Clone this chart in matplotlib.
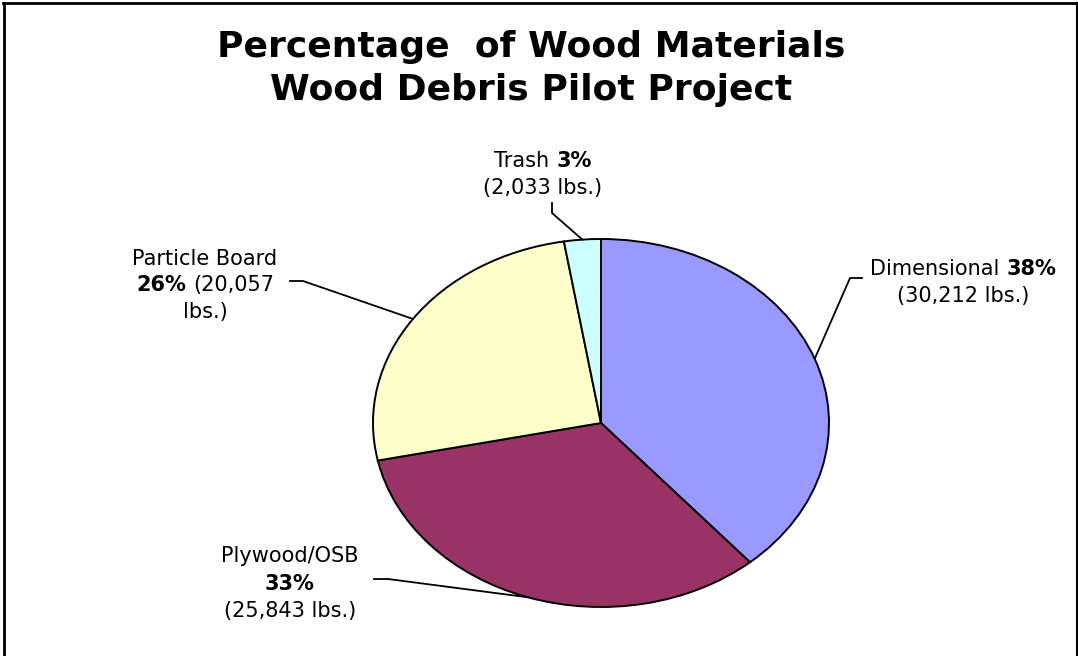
import numpy as np
import matplotlib
matplotlib.use("Agg")
import matplotlib.pyplot as plt
from matplotlib.lines import Line2D

# ---- data ----
categories = ["Dimensional", "Plywood/OSB", "Particle Board", "Trash"]
pounds = [30212, 25843, 20057, 2033]
percent_labels = ["38%", "33%", "26%", "3%"]
colors = ["#9999FF", "#993366", "#FFFFCC", "#CCFFFF"]
title_lines = ["Percentage  of Wood Materials", "Wood Debris Pilot Project"]

W, H = 1078, 656
fig = plt.figure(figsize=(W / 100, H / 100), dpi=100)
fig.patch.set_facecolor("white")

FONT = "DejaVu Sans"
LSIZE = 15

def fx(x):
    return x / W

def fy(y):
    return 1 - y / H

# ---- pie ----
ax = fig.add_axes([fx(373), (H - 607) / H, 456 / W, 368 / H])
wedges, _ = ax.pie(pounds, colors=colors, startangle=90, counterclock=False,
                   wedgeprops=dict(edgecolor="black", linewidth=1.4))
for w in wedges:
    w.set_clip_on(False)
ax.set_xlim(-1, 1)
ax.set_ylim(-1, 1)
ax.set_aspect("auto")
ax.axis("off")

# ---- title ----
fig.text(fx(531), fy(57), title_lines[0], ha="center", va="baseline",
         fontsize=26, fontweight="bold", family=FONT)
fig.text(fx(531), fy(100), title_lines[1], ha="center", va="baseline",
         fontsize=26, fontweight="bold", family=FONT)

renderer = fig.canvas.get_renderer()

def rich_line(xc, yb, parts, size=LSIZE):
    texts = []
    for s, wt in parts:
        t = fig.text(0, 0, s, fontsize=size, fontweight=wt, family=FONT,
                     ha="left", va="baseline")
        texts.append(t)
    widths = [t.get_window_extent(renderer).width for t in texts]
    gap = size * 100 / 72 * 0.32
    total = sum(widths) + gap * (len(texts) - 1)
    cur = xc - total / 2
    for t, wd in zip(texts, widths):
        t.set_position((fx(cur), fy(yb)))
        cur += wd + gap

lbs = ["({:,} lbs.)".format(v) for v in pounds]

# Dimensional
rich_line(963, 275, [(categories[0], "normal"), (percent_labels[0], "bold")])
rich_line(963, 302, [(lbs[0], "normal")])
# Plywood/OSB
rich_line(290, 562, [(categories[1], "normal")])
rich_line(290, 590, [(percent_labels[1], "bold")])
rich_line(290, 617, [(lbs[1], "normal")])
# Particle Board
lbs2_a, lbs2_b = lbs[2].split(" ")
rich_line(205, 265, [(categories[2], "normal")])
rich_line(205, 291, [(percent_labels[2], "bold"), (lbs2_a, "normal")])
rich_line(205, 318, [(lbs2_b, "normal")])
# Trash
rich_line(543, 167, [(categories[3], "normal"), (percent_labels[3], "bold")])
rich_line(543, 194, [(lbs[3], "normal")])

# ---- leader lines ----
stubs = {
    0: [(862, 278), (850, 278)],
    1: [(374, 579), (388, 579)],
    2: [(290, 281), (303, 281)],
    3: [(552, 203), (552, 213)],
}
for i, w in enumerate(wedges):
    mid = np.deg2rad((w.theta1 + w.theta2) / 2)
    px, py = ax.transData.transform((np.cos(mid), np.sin(mid)))
    pts = stubs[i] + [(px, H - py)]
    xs = [fx(p[0]) for p in pts]
    ys = [fy(p[1]) for p in pts]
    fig.add_artist(Line2D(xs, ys, transform=fig.transFigure, color="black",
                          linewidth=1.3))

# ---- border (left, top, right) ----
fig.add_artist(Line2D([fx(4), fx(4)], [0, fy(3)], transform=fig.transFigure,
                      color="black", linewidth=2))
fig.add_artist(Line2D([fx(3), fx(1077)], [fy(3), fy(3)], transform=fig.transFigure,
                      color="black", linewidth=2))
fig.add_artist(Line2D([fx(1077), fx(1077)], [0, fy(3)], transform=fig.transFigure,
                      color="black", linewidth=1.5))

fig.savefig("out.png", dpi=100, facecolor="white")
